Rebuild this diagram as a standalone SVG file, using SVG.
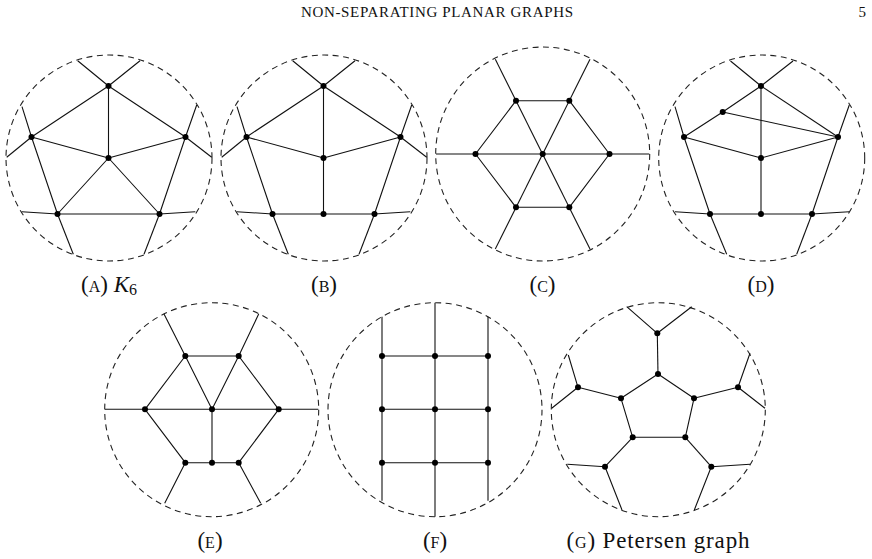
<svg xmlns="http://www.w3.org/2000/svg" width="872" height="559" viewBox="0 0 872 559">
<style>
.bd{fill:none;stroke:#222;stroke-width:1.1;stroke-dasharray:6 4.5}
.e{fill:none;stroke:#111;stroke-width:1.1;stroke-linejoin:round}
.v{fill:#000}
.t{font-family:"Liberation Serif","Times New Roman",serif;fill:#111}
.cap{font-size:23px;text-anchor:middle}
.sc{font-variant:small-caps}
</style>
<rect width="872" height="559" fill="#fff"/>
<text class="t" x="437" y="17" font-size="15" text-anchor="middle" textLength="272" lengthAdjust="spacing">NON-SEPARATING PLANAR GRAPHS</text>
<text class="t" x="866" y="17" font-size="15" text-anchor="end">5</text>

<!-- (A) K6 -->
<g id="figA">
<circle class="bd" cx="109" cy="158" r="103"/>
<g id="figA-edges">
<polyline class="e" points="77.7,60.7 108.5,86 140,60.7"/>
<polyline class="e" points="22,106.7 31.5,137 57.5,214"/>
<polyline class="e" points="196.7,105 185.5,137 159.5,214"/>
<polyline class="e" points="21.7,211.7 57.5,214 159.5,214 195.3,211.7"/>
<line class="e" x1="6.7" y1="157.3" x2="31.5" y2="137"/>
<line class="e" x1="211.7" y1="157.3" x2="185.5" y2="137"/>
<line class="e" x1="57.5" y1="214" x2="73.3" y2="254.3"/>
<line class="e" x1="159.5" y1="214" x2="144" y2="254.3"/>
<polyline class="e" points="31.5,137 108.5,86 185.5,137"/>
<line class="e" x1="108.5" y1="86" x2="108.5" y2="158"/>
<polyline class="e" points="31.5,137 108.5,158 185.5,137"/>
<polyline class="e" points="57.5,214 108.5,158 159.5,214"/>
</g>
<g id="A-t"><circle class="v" cx="108.5" cy="86" r="3"/></g>
<g id="A-l"><circle class="v" cx="31.5" cy="137" r="3"/></g>
<g id="A-r"><circle class="v" cx="185.5" cy="137" r="3"/></g>
<g id="A-c"><circle class="v" cx="108.5" cy="158" r="3"/></g>
<g id="A-bl"><circle class="v" cx="57.5" cy="214" r="3"/></g>
<g id="A-br"><circle class="v" cx="159.5" cy="214" r="3"/></g>
<text class="t cap" x="109" y="292"><tspan>(</tspan><tspan class="sc">a</tspan><tspan>)  </tspan><tspan font-style="italic">K</tspan><tspan font-size="16" dy="3">6</tspan></text>
</g>

<!-- (B) -->
<g id="figB">
<circle class="bd" cx="324" cy="158" r="103"/>
<g id="figB-edges">
<polyline class="e" points="292.7,60.7 323.5,86 355,60.7"/>
<polyline class="e" points="237,106.7 246.5,137 272.5,214"/>
<polyline class="e" points="411.7,105 400.5,137 374.5,214"/>
<polyline class="e" points="236.7,211.7 272.5,214 374.5,214 410.3,211.7"/>
<line class="e" x1="221.7" y1="157.3" x2="246.5" y2="137"/>
<line class="e" x1="426.7" y1="157.3" x2="400.5" y2="137"/>
<line class="e" x1="272.5" y1="214" x2="288.3" y2="254.3"/>
<line class="e" x1="374.5" y1="214" x2="359" y2="254.3"/>
<polyline class="e" points="246.5,137 323.5,86 400.5,137"/>
<line class="e" x1="323.5" y1="86" x2="323.5" y2="214"/>
<polyline class="e" points="246.5,137 323.5,158 400.5,137"/>
</g>
<g id="B-t"><circle class="v" cx="323.5" cy="86" r="3"/></g>
<g id="B-l"><circle class="v" cx="246.5" cy="137" r="3"/></g>
<g id="B-r"><circle class="v" cx="400.5" cy="137" r="3"/></g>
<g id="B-c"><circle class="v" cx="323.5" cy="158" r="3"/></g>
<g id="B-bl"><circle class="v" cx="272.5" cy="214" r="3"/></g>
<g id="B-bm"><circle class="v" cx="323.5" cy="214" r="3"/></g>
<g id="B-br"><circle class="v" cx="374.5" cy="214" r="3"/></g>
<text class="t cap" x="324" y="292">(<tspan class="sc">b</tspan>)</text>
</g>

<!-- (C) -->
<g id="figC">
<circle class="bd" cx="542.7" cy="154" r="107"/>
<g id="figC-edges">
<line class="e" x1="436" y1="154" x2="649.3" y2="154"/>
<line class="e" x1="495.3" y1="59.3" x2="590" y2="249"/>
<line class="e" x1="590" y1="59.3" x2="495.3" y2="249"/>
<polyline class="e" points="516,100.7 475.5,154 516,207.3"/>
<polyline class="e" points="569.3,100.7 609.5,154 569.3,207.3"/>
<line class="e" x1="516" y1="100.7" x2="569.3" y2="100.7"/>
<line class="e" x1="516" y1="207.3" x2="569.3" y2="207.3"/>
</g>
<g id="C-c"><circle class="v" cx="542.7" cy="154" r="3"/></g>
<g id="C-l"><circle class="v" cx="475.5" cy="154" r="3"/></g>
<g id="C-r"><circle class="v" cx="609.5" cy="154" r="3"/></g>
<g id="C-tl"><circle class="v" cx="516" cy="100.7" r="3"/></g>
<g id="C-tr"><circle class="v" cx="569.3" cy="100.7" r="3"/></g>
<g id="C-bl"><circle class="v" cx="516" cy="207.3" r="3"/></g>
<g id="C-br"><circle class="v" cx="569.3" cy="207.3" r="3"/></g>
<text class="t cap" x="542.5" y="292">(<tspan class="sc">c</tspan>)</text>
</g>

<!-- (D) -->
<g id="figD">
<circle class="bd" cx="761.7" cy="158" r="103"/>
<g id="figD-edges">
<polyline class="e" points="730.5,61 761,86 793,61"/>
<polyline class="e" points="675,106.7 684,137 710,214"/>
<polyline class="e" points="849.3,105 838,137 812,214"/>
<polyline class="e" points="675,211.7 710,214 812,214 849.3,211.7"/>
<line class="e" x1="710" y1="214" x2="726.7" y2="254.3"/>
<line class="e" x1="812" y1="214" x2="796.7" y2="254.3"/>
<polyline class="e" points="761,86 722.7,112 684,137"/>
<line class="e" x1="722.7" y1="112" x2="838" y2="137"/>
<line class="e" x1="761" y1="86" x2="838" y2="137"/>
<line class="e" x1="761" y1="86" x2="761" y2="214"/>
<polyline class="e" points="684,137 761,158 838,137"/>
</g>
<g id="D-t"><circle class="v" cx="761" cy="86" r="3"/></g>
<g id="D-i"><circle class="v" cx="722.7" cy="112" r="3"/></g>
<g id="D-l"><circle class="v" cx="684" cy="137" r="3"/></g>
<g id="D-r"><circle class="v" cx="838" cy="137" r="3"/></g>
<g id="D-c"><circle class="v" cx="761" cy="158" r="3"/></g>
<g id="D-bl"><circle class="v" cx="710" cy="214" r="3"/></g>
<g id="D-bm"><circle class="v" cx="761" cy="214" r="3"/></g>
<g id="D-br"><circle class="v" cx="812" cy="214" r="3"/></g>
<text class="t cap" x="761" y="292">(<tspan class="sc">d</tspan>)</text>
</g>

<!-- (E) -->
<g id="figE">
<circle class="bd" cx="211.7" cy="409.7" r="107"/>
<g id="figE-edges">
<line class="e" x1="105" y1="409.3" x2="318.3" y2="409.3"/>
<polyline class="e" points="164,314 185.3,356 212,409.3 238.7,356 258.7,314"/>
<line class="e" x1="185.3" y1="356" x2="238.7" y2="356"/>
<polyline class="e" points="185.3,356 145,409.3 185.3,462.7 164.7,503.3"/>
<polyline class="e" points="238.7,356 278.7,409.3 238.7,462.7 260.7,503.3"/>
<line class="e" x1="185.3" y1="462.7" x2="238.7" y2="462.7"/>
<line class="e" x1="212" y1="409.3" x2="212" y2="462.7"/>
</g>
<g id="E-tl"><circle class="v" cx="185.3" cy="356" r="3"/></g>
<g id="E-tr"><circle class="v" cx="238.7" cy="356" r="3"/></g>
<g id="E-l"><circle class="v" cx="145" cy="409.3" r="3"/></g>
<g id="E-c"><circle class="v" cx="212" cy="409.3" r="3"/></g>
<g id="E-r"><circle class="v" cx="278.7" cy="409.3" r="3"/></g>
<g id="E-bl"><circle class="v" cx="185.3" cy="462.7" r="3"/></g>
<g id="E-bm"><circle class="v" cx="212" cy="462.7" r="3"/></g>
<g id="E-br"><circle class="v" cx="238.7" cy="462.7" r="3"/></g>
<text class="t cap" x="210" y="548">(<tspan class="sc">e</tspan>)</text>
</g>

<!-- (F) -->
<g id="figF">
<circle class="bd" cx="435" cy="409.7" r="107"/>
<g id="figF-edges">
<line class="e" x1="382" y1="316.7" x2="382" y2="500.7"/>
<line class="e" x1="435" y1="302.7" x2="435" y2="516.7"/>
<line class="e" x1="488" y1="316.7" x2="488" y2="500.7"/>
<line class="e" x1="382" y1="356" x2="488" y2="356"/>
<line class="e" x1="382" y1="409.3" x2="488" y2="409.3"/>
<line class="e" x1="382" y1="462.7" x2="488" y2="462.7"/>
</g>
<g id="F-11"><circle class="v" cx="382" cy="356" r="3"/></g>
<g id="F-12"><circle class="v" cx="435" cy="356" r="3"/></g>
<g id="F-13"><circle class="v" cx="488" cy="356" r="3"/></g>
<g id="F-21"><circle class="v" cx="382" cy="409.3" r="3"/></g>
<g id="F-22"><circle class="v" cx="435" cy="409.3" r="3"/></g>
<g id="F-23"><circle class="v" cx="488" cy="409.3" r="3"/></g>
<g id="F-31"><circle class="v" cx="382" cy="462.7" r="3"/></g>
<g id="F-32"><circle class="v" cx="435" cy="462.7" r="3"/></g>
<g id="F-33"><circle class="v" cx="488" cy="462.7" r="3"/></g>
<text class="t cap" x="435" y="548">(<tspan class="sc">f</tspan>)</text>
</g>

<!-- (G) Petersen -->
<g id="figG">
<circle class="bd" cx="658.3" cy="409.7" r="107"/>
<g id="figG-edges">
<polyline class="e" points="626.7,306.7 657.3,333.3 691.7,306.7"/>
<line class="e" x1="657.3" y1="333.3" x2="658" y2="374"/>
<polyline class="e" points="568.3,355 578,387.3 551.7,408.3"/>
<polyline class="e" points="750,353.3 738,387.3 765,408.3"/>
<polyline class="e" points="567.3,464.3 605,466.7 622,510"/>
<polyline class="e" points="750,464.3 711.3,466.7 694.3,510"/>
<line class="e" x1="578" y1="387.3" x2="621" y2="398.3"/>
<line class="e" x1="738" y1="387.3" x2="694" y2="398.3"/>
<line class="e" x1="605" y1="466.7" x2="632.7" y2="437.3"/>
<line class="e" x1="711.3" y1="466.7" x2="685.3" y2="437.3"/>
<polygon class="e" points="658,374 694,398.3 685.3,437.3 632.7,437.3 621,398.3"/>
</g>
<g id="G-ot"><circle class="v" cx="657.3" cy="333.3" r="3"/></g>
<g id="G-it"><circle class="v" cx="658" cy="374" r="3"/></g>
<g id="G-ol"><circle class="v" cx="578" cy="387.3" r="3"/></g>
<g id="G-il"><circle class="v" cx="621" cy="398.3" r="3"/></g>
<g id="G-ir"><circle class="v" cx="694" cy="398.3" r="3"/></g>
<g id="G-or"><circle class="v" cx="738" cy="387.3" r="3"/></g>
<g id="G-ibl"><circle class="v" cx="632.7" cy="437.3" r="3"/></g>
<g id="G-ibr"><circle class="v" cx="685.3" cy="437.3" r="3"/></g>
<g id="G-obl"><circle class="v" cx="605" cy="466.7" r="3"/></g>
<g id="G-obr"><circle class="v" cx="711.3" cy="466.7" r="3"/></g>
<text class="t cap" x="658" y="548" textLength="183" lengthAdjust="spacing">(<tspan class="sc">g</tspan>) Petersen graph</text>
</g>
</svg>
